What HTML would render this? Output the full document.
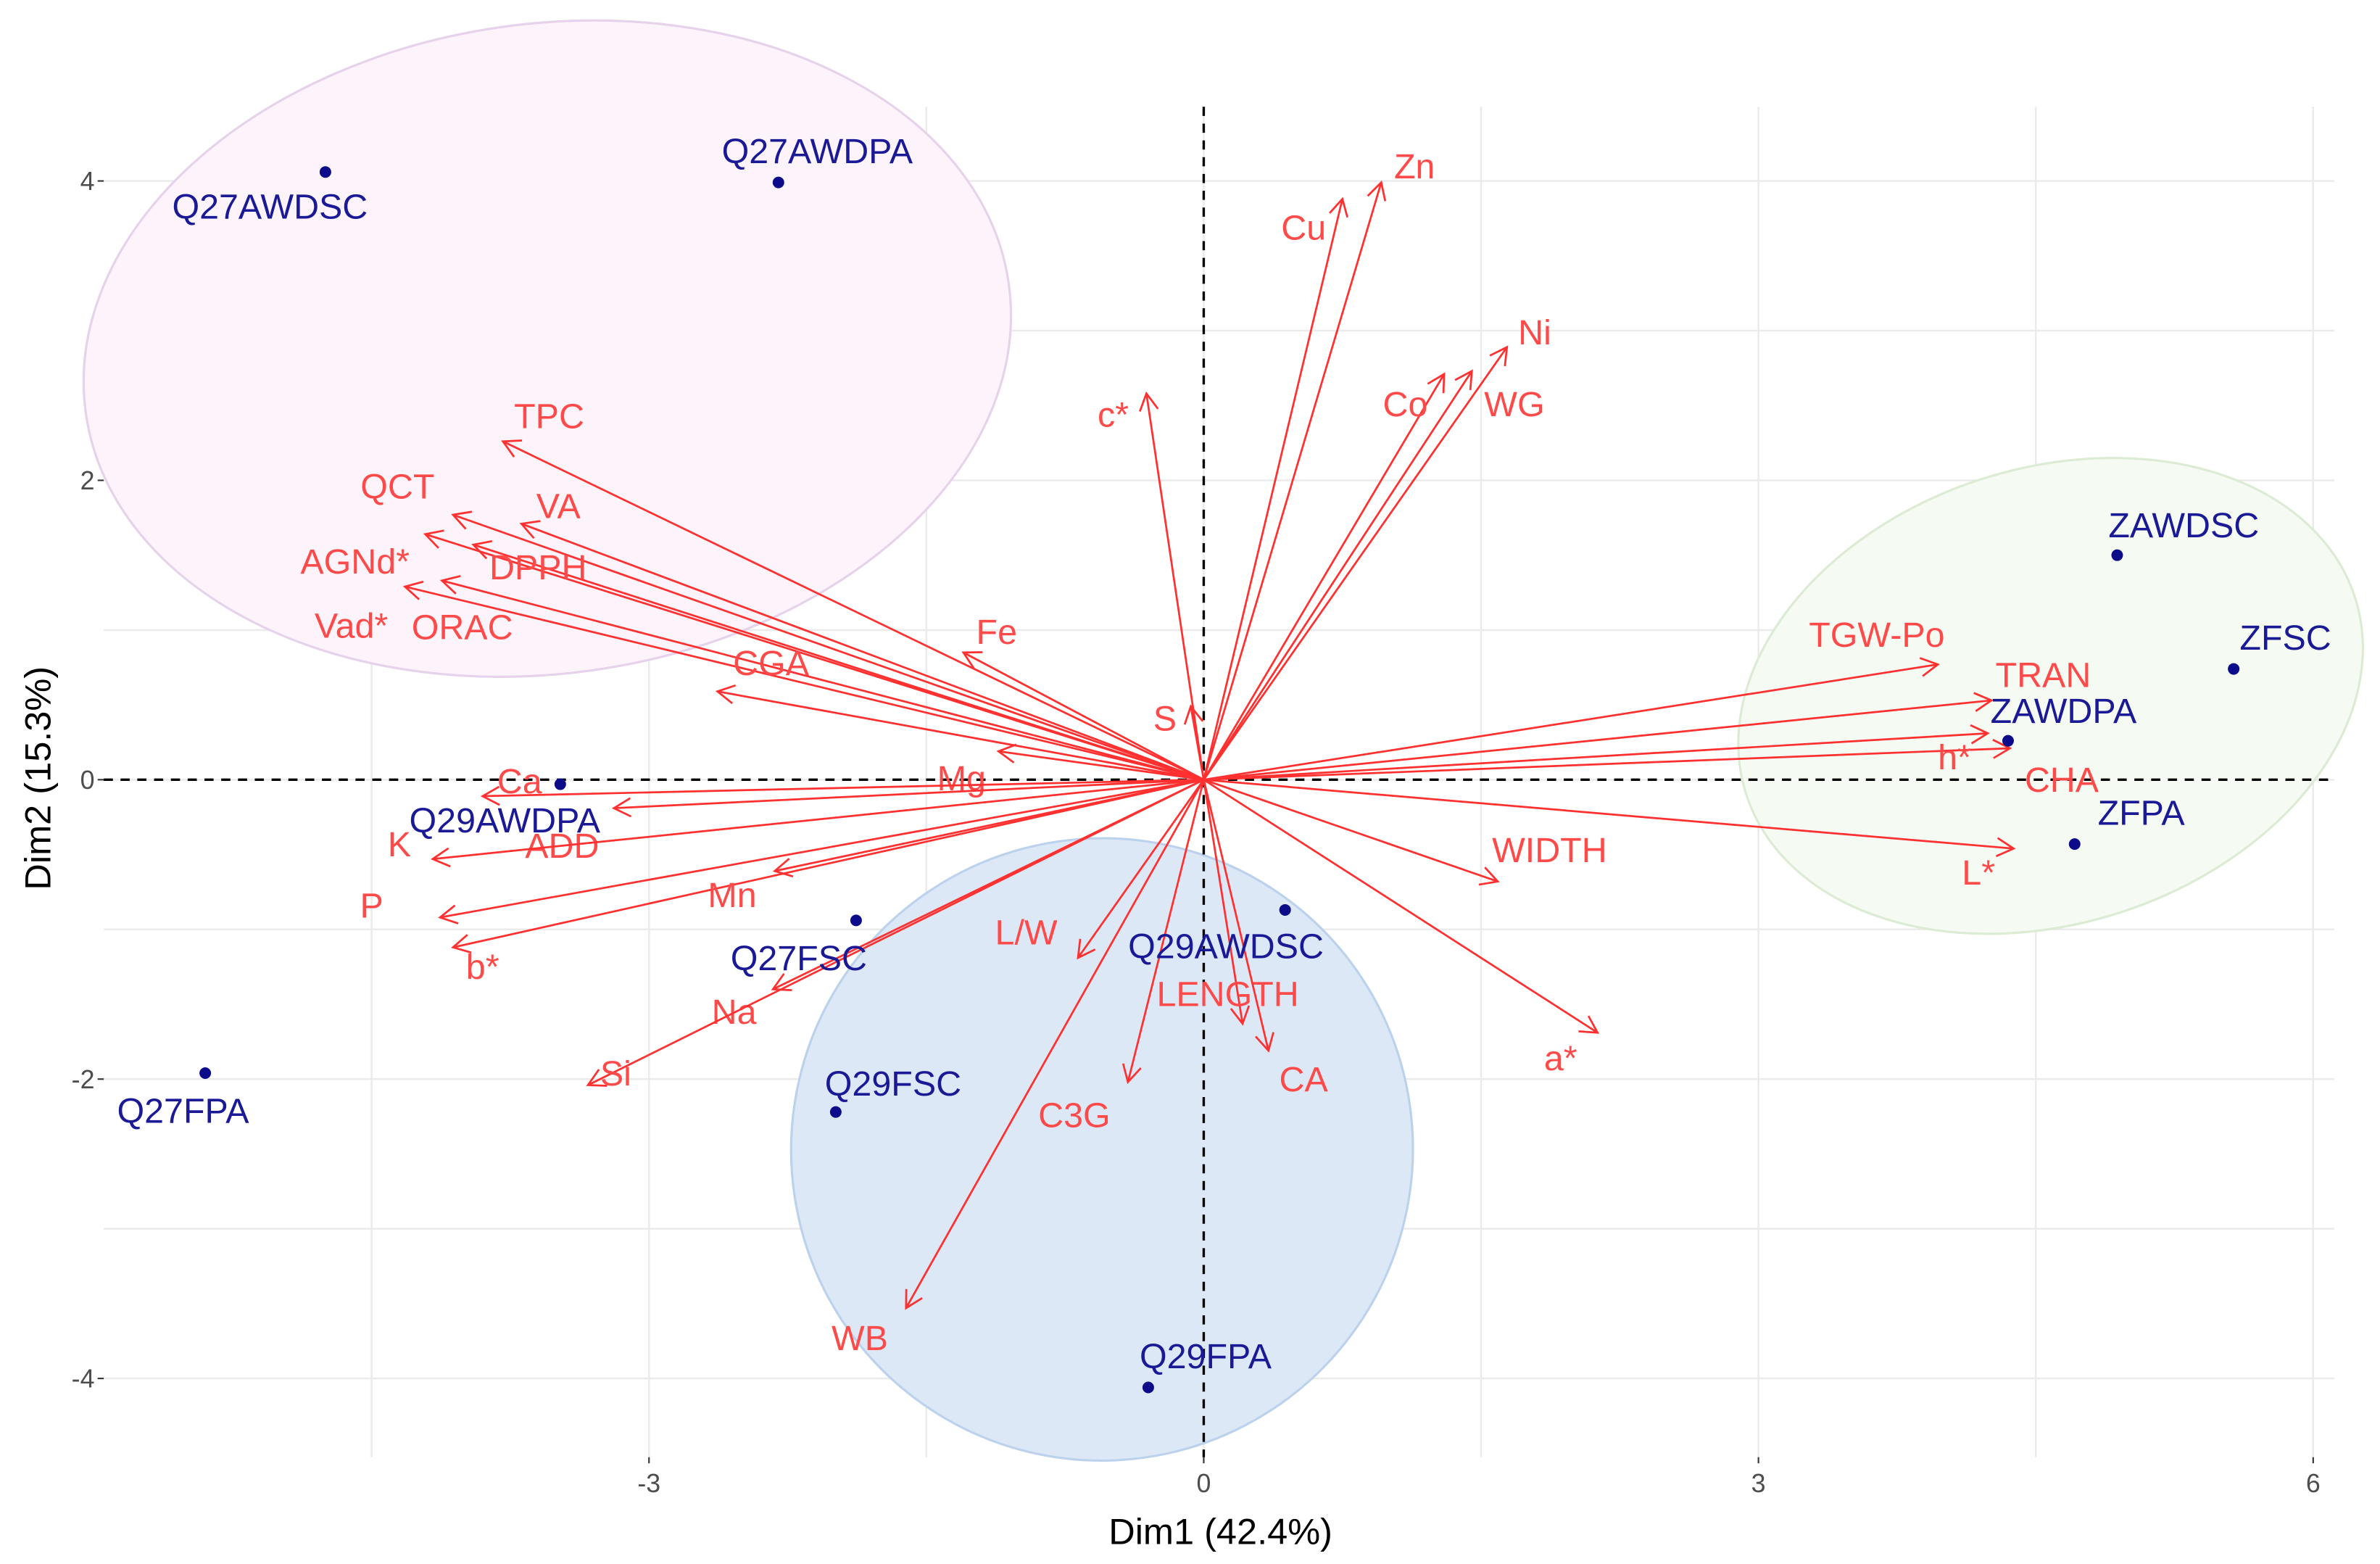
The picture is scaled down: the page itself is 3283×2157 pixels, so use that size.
<!DOCTYPE html>
<html><head><meta charset="utf-8"><style>
html,body{margin:0;padding:0;background:#fff;}
svg{display:block;}
text{font-family:"Liberation Sans Narrow","Liberation Sans",sans-serif;}
</style></head><body>
<svg id="chart" width="3283" height="2157" viewBox="0 0 1560 1025" preserveAspectRatio="none" xmlns="http://www.w3.org/2000/svg">
<defs>
<marker id="ah" markerWidth="14" markerHeight="14" refX="12" refY="7" orient="auto" markerUnits="userSpaceOnUse">
<path d="M1,1 L12,7 L1,13" fill="none" stroke="#ff3030" stroke-width="1.3"/>
</marker>
</defs>
<g id="grid"></g>
<g id="ellipses"></g>
<g id="zero"></g>
<g id="arrows"></g>
<g id="points"></g>
<g id="axes"></g>
</svg>
<script>
const xTicks=[-3,0,3,6];
const yTicks=[-4,-2,0,2,4];
const xGrid=[-4.5,-3,-1.5,0,1.5,3,4.5,6];
const yGrid=[-4,-3,-2,-1,0,1,2,3,4];
const pointNames=["Q27AWDSC","Q27AWDPA","ZAWDSC","ZFSC","ZAWDPA","ZFPA","Q29AWDPA","Q27FSC","Q29AWDSC","Q29FSC","Q27FPA","Q29FPA"];
const pointX=[-4.75,-2.30,4.94,5.57,4.35,4.71,-3.48,-1.88,0.44,-1.99,-5.40,-0.30];
const pointY=[4.06,3.99,1.50,0.74,0.26,-0.43,-0.03,-0.94,-0.87,-2.22,-1.96,-4.06];
const pointLabelX=[-5.05,-2.09,5.30,5.85,4.65,5.07,-3.78,-2.19,0.12,-1.68,-5.52,0.01];
const pointLabelY=[3.83,4.20,1.70,0.95,0.46,-0.22,-0.27,-1.19,-1.11,-2.03,-2.21,-3.85];
const varNames=["Zn","Cu","Ni","Co","WG","c*","TPC","QCT","VA","AGNd*","DPPH","Vad*","ORAC","Fe","CGA","S","Mg","Ca","ADD","K","P","b*","Mn","Na","Si","L/W","LENGTH","C3G","CA","WB","a*","WIDTH","TGW-Po","TRAN","h*","CHA","L*"];
const varX=[0.96,0.75,1.64,1.30,1.45,-0.31,-3.79,-4.06,-3.69,-4.21,-3.95,-4.32,-4.12,-1.30,-2.63,-0.07,-1.11,-3.90,-3.19,-4.17,-4.13,-4.06,-2.32,-2.33,-3.33,-0.68,0.21,-0.41,0.35,-1.61,2.13,1.59,3.97,4.26,4.36,4.24,4.38];
const varY=[3.99,3.88,2.89,2.71,2.73,2.58,2.26,1.77,1.71,1.64,1.57,1.29,1.33,0.85,0.59,0.49,0.19,-0.11,-0.19,-0.53,-0.92,-1.12,-0.61,-1.40,-2.04,-1.19,-1.63,-2.02,-1.81,-3.53,-1.69,-0.68,0.77,0.53,0.21,0.31,-0.46];
const varLabelX=[1.14,0.54,1.79,1.09,1.68,-0.49,-3.54,-4.36,-3.49,-4.59,-3.60,-4.61,-4.01,-1.12,-2.34,-0.21,-1.31,-3.70,-3.47,-4.35,-4.50,-3.90,-2.55,-2.54,-3.18,-0.96,0.13,-0.70,0.54,-1.86,1.93,1.87,3.64,4.54,4.06,4.64,4.19];
const varLabelY=[4.10,3.69,2.99,2.51,2.51,2.44,2.43,1.96,1.83,1.46,1.42,1.03,1.02,0.99,0.78,0.41,0.01,-0.01,-0.44,-0.43,-0.84,-1.25,-0.77,-1.55,-1.96,-1.02,-1.43,-2.24,-2.00,-3.73,-1.86,-0.47,0.97,0.70,0.15,0.00,-0.62];
const ellCX=[-3.55,4.58,-0.55];
const ellCY=[2.88,0.56,-2.47];
const ellRX=[2.52,1.73,1.68];
const ellRY=[2.17,1.52,2.08];
const ellRot=[-8,-18,35];
const ellFill=["#fdf3fb","#f5faf2","#dce8f6"];
const ellStroke=["#e6d2ea","#dcebd4","#bcd2ec"];

const SX=121.2, X0=789, SY=98.1, Y0=511;
const L=68,R=1530,T=70,B=955;
const xs=v=>X0+v*SX, ys=v=>Y0-v*SY;
const NS="http://www.w3.org/2000/svg";
function mk(tag,attrs,parent){const e=document.createElementNS(NS,tag);for(const k in attrs)e.setAttribute(k,attrs[k]);parent.appendChild(e);return e;}
const g=id=>document.getElementById(id);

xGrid.forEach(v=>{const e=mk('line',{x1:xs(v),x2:xs(v),y1:T,y2:B,stroke:'#ebebeb','stroke-width':1.2},g('grid'));

});
yGrid.forEach(v=>{const e=mk('line',{x1:L,x2:R,y1:ys(v),y2:ys(v),stroke:'#ebebeb','stroke-width':1.2},g('grid'));

});

ellCX.forEach((c,i)=>{const cx=xs(c),cy=ys(ellCY[i]);
const e=mk('ellipse',{cx:cx,cy:cy,rx:ellRX[i]*SX,ry:ellRY[i]*SY,transform:`rotate(${ellRot[i]} ${cx} ${cy})`,fill:ellFill[i],stroke:ellStroke[i],'stroke-width':1.5},g('ellipses'));

});

let z=mk('line',{x1:L,x2:R,y1:ys(0),y2:ys(0),stroke:'#000','stroke-width':1.6,'stroke-dasharray':'6,5'},g('zero'));


z=mk('line',{x1:xs(0),x2:xs(0),y1:T,y2:B,stroke:'#000','stroke-width':1.6,'stroke-dasharray':'6,5'},g('zero'));



varNames.forEach((n,i)=>{
const a=mk('line',{x1:xs(0),y1:ys(0),x2:xs(varX[i]),y2:ys(varY[i]),stroke:'#ff3030','stroke-width':1.3,'marker-end':'url(#ah)'},g('arrows'));


const t=mk('text',{x:xs(varLabelX[i]),y:ys(varLabelY[i])+8,'text-anchor':'middle','font-size':23,fill:'#ff4a4a'},g('arrows'));
t.textContent=n;


});

pointNames.forEach((n,i)=>{
const c=mk('circle',{cx:xs(pointX[i]),cy:ys(pointY[i]),r:3.8,fill:'#0c0c8a'},g('points'));


const t=mk('text',{x:xs(pointLabelX[i]),y:ys(pointLabelY[i])+8,'text-anchor':'middle','font-size':23,fill:'#1a1a96'},g('points'));
t.textContent=n;


});

xTicks.forEach(v=>{const t=mk('text',{x:xs(v),y:B+23,'text-anchor':'middle','font-size':17,fill:'#4d4d4d'},g('axes'));t.textContent=v;


mk('line',{x1:xs(v),x2:xs(v),y1:B,y2:B+4,stroke:'#333'},g('axes'));});
yTicks.forEach(v=>{const t=mk('text',{x:L-6,y:ys(v)+6,'text-anchor':'end','font-size':17,fill:'#4d4d4d'},g('axes'));t.textContent=v;


mk('line',{x1:L-4,x2:L,y1:ys(v),y2:ys(v),stroke:'#333'},g('axes'));});
let t=mk('text',{x:800,y:1012,'text-anchor':'middle','font-size':24,fill:'#000'},g('axes'));t.textContent='Dim1 (42.4%)';


t=mk('text',{x:0,y:0,transform:'translate(33,510) rotate(-90)','text-anchor':'middle','font-size':24,fill:'#000'},g('axes'));t.textContent='Dim2 (15.3%)';


</script>
</body></html>
